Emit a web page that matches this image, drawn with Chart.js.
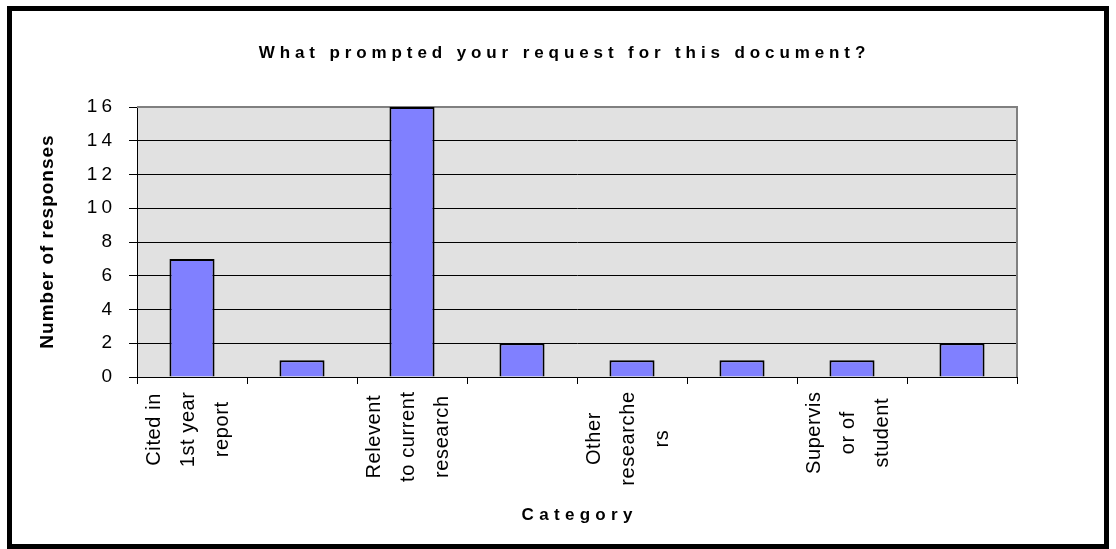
<!DOCTYPE html>
<html>
<head>
<meta charset="utf-8">
<script src="https://cdn.jsdelivr.net/npm/chart.js@4.4.1/dist/chart.umd.min.js"></script>
<style>
html,body{margin:0;padding:0;background:#fff;}
#wrap{position:relative;width:1116px;height:549px;overflow:hidden;}
#c{display:block;}
#frame{position:absolute;left:7px;top:6px;width:1102px;height:543px;border:5px solid #000;box-sizing:border-box;pointer-events:none;}
</style>
</head>
<body>
<div id="wrap">
<canvas id="c" width="1116" height="549"></canvas>
<div id="frame"></div>
</div>
<script>
// ---- data ----
const chartTitle = "What prompted your request for this document?";
const xAxisTitle = "Category";
const yAxisTitle = "Number of responses";
const categories = [
  ["Cited in", "1st year", "report"],
  [""],
  ["Relevent", "to current", "research"],
  [""],
  ["Other", "researche", "rs"],
  [""],
  ["Supervis", "or of", "student"],
  [""]
];
const responses = [7, 1, 16, 2, 1, 1, 1, 2];
const yMin = 0;
const yMax = 16;
const yStep = 2;

// ---- helpers ----
const FONT = '"Liberation Sans", Arial, sans-serif';
function spacedText(ctx, text, x, y, spacing, align) {
  ctx.letterSpacing = '0px';
  const w0 = ctx.measureText(text).width;
  const n = [...text].length;
  const total = w0 + spacing * Math.max(0, n - 1);
  let sx = x;
  if (align === 'center') sx = x - total / 2;
  else if (align === 'right') sx = x - total;
  ctx.letterSpacing = spacing + 'px';
  ctx.textAlign = 'left';
  ctx.fillText(text, sx, y);
  ctx.letterSpacing = '0px';
}

const textPlugin = {
  id: 'excelTexts',
  beforeDraw(chart) {
    const {ctx, chartArea: a} = chart;
    ctx.save();
    ctx.fillStyle = '#e1e1e1';
    ctx.fillRect(a.left, a.top, a.right - a.left, a.bottom - a.top);
    ctx.restore();
  },
  beforeDatasetsDraw(chart) {
    const {ctx, chartArea: a} = chart;
    ctx.save();
    ctx.strokeStyle = '#808080';
    ctx.lineWidth = 2;
    ctx.beginPath();
    ctx.moveTo(a.left, a.top);
    ctx.lineTo(a.right, a.top);
    ctx.lineTo(a.right, a.bottom);
    ctx.stroke();
    ctx.restore();
  },
  afterDraw(chart) {
    const {ctx, chartArea: a} = chart;
    const xs = chart.scales.x, ys = chart.scales.y;
    ctx.save();
    ctx.fillStyle = '#000';
    ctx.textBaseline = 'middle';

    // chart title
    ctx.font = 'bold 17px ' + FONT;
    spacedText(ctx, chartTitle, 562, 53, 4.9, 'center');

    // x axis title
    ctx.font = 'bold 17px ' + FONT;
    spacedText(ctx, xAxisTitle, (a.left + a.right) / 2, 515, 5.3, 'center');

    // y axis title (rotated)
    ctx.save();
    ctx.translate(48, (a.top + a.bottom) / 2);
    ctx.rotate(-Math.PI / 2);
    ctx.font = 'bold 19px ' + FONT;
    spacedText(ctx, yAxisTitle, 0, 0, 1, 'center');
    ctx.restore();

    // y tick labels
    ctx.font = '19px ' + FONT;
    ys.ticks.forEach(t => {
      const py = ys.getPixelForValue(t.value);
      spacedText(ctx, String(t.value), a.left - 25, py, 4, 'right');
    });

    // x category labels (rotated, lines centred, block top-aligned)
    ctx.font = '20px ' + FONT;
    const lineGap = 34;
    const sp = 0.6;
    categories.forEach((lines, i) => {
      const px = xs.getPixelForValue(i);
      const widths = lines.map(l => {
        ctx.letterSpacing = '0px';
        return ctx.measureText(l).width + sp * Math.max(0, l.length - 1);
      });
      const maxW = Math.max(...widths);
      if (maxW <= 0) return;
      const cy = a.bottom + 15 + maxW / 2;
      const n = lines.length;
      lines.forEach((l, j) => {
        const lx = px - 4 + (j - (n - 1) / 2) * lineGap;
        ctx.save();
        ctx.translate(lx, cy);
        ctx.rotate(-Math.PI / 2);
        spacedText(ctx, l, 0, 0, sp, 'center');
        ctx.restore();
      });
    });
    ctx.restore();
  }
};

new Chart(document.getElementById('c'), {
  type: 'bar',
  data: {
    labels: categories,
    datasets: [{
      data: responses,
      backgroundColor: '#8080ff',
      borderColor: '#000000',
      borderWidth: 2,
      barPercentage: 0.41,
      categoryPercentage: 1
    }]
  },
  options: {
    responsive: false,
    animation: false,
    devicePixelRatio: 1,
    layout: {padding: {left: 137, right: 99, top: 107, bottom: 172}},
    plugins: {
      legend: {display: false},
      title: {display: false},
      tooltip: {enabled: false}
    },
    scales: {
      x: {
        ticks: {display: false},
        grid: {drawOnChartArea: false, drawTicks: true, tickLength: 7, color: '#000', offset: true},
        border: {color: '#000', width: 1},
        afterFit(s) { s.height = 0; }
      },
      y: {
        min: yMin,
        max: yMax,
        ticks: {display: false, stepSize: yStep},
        grid: {
          color: c => (c.tick && c.tick.value === yMax) ? '#808080' : '#000',
          tickColor: '#000',
          tickLength: 8,
          drawTicks: true
        },
        border: {color: '#000', width: 1},
        afterFit(s) { s.width = 0; }
      }
    }
  },
  plugins: [textPlugin]
});
</script>
</body>
</html>
